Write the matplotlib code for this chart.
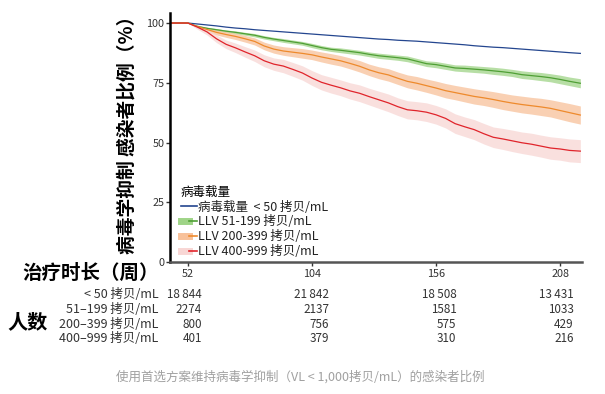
import matplotlib
matplotlib.use('Agg')
import matplotlib.pyplot as plt
import matplotlib.transforms as mtransforms
from matplotlib.lines import Line2D
from matplotlib.legend_handler import HandlerTuple

plt.rcParams['font.family'] = ['Noto Sans CJK SC', 'DejaVu Sans']

# 数据
weeks = [44.5, 52, 56, 60, 64, 68, 72, 76, 80, 84, 88, 92, 96, 100, 104, 108, 112, 116,
         120, 124, 128, 132, 136, 140, 144, 148, 152, 156, 160, 164, 168, 172, 176, 180,
         184, 188, 192, 196, 200, 204, 208, 212, 216.5]

vl_lt50 = [100, 100, 99.6, 99.2, 98.8, 98.3, 97.9, 97.6, 97.2, 96.9, 96.6, 96.3, 96.0, 95.7,
           95.4, 95.1, 94.8, 94.5, 94.2, 93.9, 93.6, 93.3, 93.1, 92.8, 92.6, 92.4, 92.1, 91.8,
           91.5, 91.2, 90.9, 90.5, 90.2, 89.9, 89.7, 89.4, 89.1, 88.8, 88.5, 88.2, 87.9, 87.6, 87.3]
llv_51_199 = [100, 100, 98.6, 97.8, 97.2, 96.6, 96.1, 95.5, 94.9, 94.0, 93.3, 92.7, 92.1, 91.5,
              90.6, 89.7, 89.0, 88.6, 88.1, 87.6, 86.9, 86.3, 85.9, 85.5, 85.0, 84.0, 83.0, 82.6,
              81.9, 81.2, 81.0, 80.7, 80.4, 80.0, 79.6, 79.1, 78.4, 78.0, 77.6, 77.1, 76.4, 75.6, 74.8]
llv_200_399 = [100, 100, 98.5, 97.3, 96.1, 95.2, 94.4, 93.4, 92.3, 90.4, 89.1, 88.3, 87.8, 87.3,
               86.7, 85.8, 85.0, 84.2, 83.1, 81.9, 80.4, 79.2, 78.3, 76.9, 75.6, 74.8, 73.8, 72.8,
               71.7, 70.9, 70.1, 69.3, 68.7, 68.0, 67.2, 66.5, 65.9, 65.4, 64.9, 64.3, 63.4, 62.5, 61.5]
llv_400_999 = [100, 100, 98.3, 96.3, 93.4, 91.1, 89.6, 87.9, 86.3, 84.2, 82.8, 82.0, 80.6, 79.1,
               77.0, 75.2, 74.0, 72.9, 71.6, 70.6, 69.2, 67.9, 66.6, 65.0, 63.7, 63.3, 62.7, 61.6,
               60.1, 57.9, 56.6, 55.4, 53.7, 52.2, 51.5, 50.7, 49.9, 49.3, 48.5, 47.7, 47.3, 46.7, 46.4]

# 置信区间半宽
ci_51_199 = [0, 0, 0.3, 0.4, 0.5, 0.5, 0.6, 0.6, 0.7, 0.7, 0.7, 0.8, 0.8, 0.8, 0.9, 0.9, 0.9,
             1.0, 1.0, 1.0, 1.0, 1.1, 1.1, 1.1, 1.2, 1.2, 1.2, 1.3, 1.3, 1.3, 1.4, 1.4, 1.4, 1.5,
             1.5, 1.5, 1.6, 1.6, 1.7, 1.7, 1.8, 1.8, 1.9]
ci_200_399 = [0, 0, 0.6, 0.9, 1.1, 1.2, 1.3, 1.4, 1.5, 1.6, 1.7, 1.8, 1.9, 2.0, 2.0, 2.1, 2.2,
              2.2, 2.3, 2.4, 2.4, 2.5, 2.6, 2.6, 2.7, 2.8, 2.8, 2.9, 3.0, 3.0, 3.1, 3.2, 3.2, 3.3,
              3.4, 3.4, 3.5, 3.5, 3.6, 3.6, 3.7, 3.8, 3.8]
ci_400_999 = [0, 0, 0.9, 1.3, 1.6, 1.8, 2.0, 2.2, 2.4, 2.5, 2.6, 2.8, 2.9, 3.0, 3.1, 3.2, 3.3,
              3.3, 3.4, 3.5, 3.5, 3.6, 3.7, 3.7, 3.8, 3.8, 3.9, 3.9, 4.0, 4.1, 4.1, 4.2, 4.3, 4.3,
              4.4, 4.5, 4.5, 4.6, 4.6, 4.7, 4.7, 4.8, 4.8]

legend_labels = ['病毒载量  < 50 拷贝/mL', 'LLV 51-199 拷贝/mL',
                 'LLV 200-399 拷贝/mL', 'LLV 400-999 拷贝/mL']
row_labels = ['< 50 拷贝/mL', '51–199 拷贝/mL', '200–399 拷贝/mL', '400–999 拷贝/mL']
x_ticks = [52, 104, 156, 208]
y_ticks = [0, 25, 50, 75, 100]
at_risk = [
    ['18\u2009844', '21\u2009842', '18\u2009508', '13\u2009431'],
    ['2274', '2137', '1581', '1033'],
    ['800', '756', '575', '429'],
    ['401', '379', '310', '216'],
]

line_colors = ['#24468f', '#4f9f35', '#ee8a2c', '#e0242b']
band_colors = [None, '#9fd487', '#f8c19a', '#f8d6d4']

fig = plt.figure(figsize=(6.05, 3.94), dpi=100)
ax = fig.add_axes([0.281, 0.335, 0.681, 0.632])

series = [vl_lt50, llv_51_199, llv_200_399, llv_400_999]
bands = [None, ci_51_199, ci_200_399, ci_400_999]

# 先画置信带
for s, ci, bc in zip(series, bands, band_colors):
    if ci is None:
        continue
    lo = [v - c for v, c in zip(s, ci)]
    hi = [v + c for v, c in zip(s, ci)]
    ax.fill_between(weeks, lo, hi, color=bc, alpha=0.75, lw=0)

for s, lc in zip(series, line_colors):
    ax.plot(weeks, s, color=lc, lw=0.9)

ax.set_xlim(44.5, 217.2)
ax.set_ylim(0, 104.2)
ax.set_xticks(x_ticks)
ax.set_yticks(y_ticks)
ax.tick_params(axis='both', labelsize=7.8, colors='#333333', length=3, width=1)
ax.tick_params(axis='x', pad=2)
ax.tick_params(axis='y', pad=1)

for side in ['top', 'right']:
    ax.spines[side].set_visible(False)
ax.spines['left'].set_color('black')
ax.spines['left'].set_linewidth(1.8)
ax.spines['bottom'].set_color('#555555')
ax.spines['bottom'].set_linewidth(1.8)

# 图例
handles = []
for lc, bc in zip(line_colors, band_colors):
    if bc is None:
        handles.append(Line2D([], [], color=lc, lw=1.2))
    else:
        handles.append((Line2D([], [], color=bc, lw=5),
                        Line2D([], [], color=lc, lw=1.2)))
leg = ax.legend(handles, legend_labels, title='病毒载量', loc='lower left',
                bbox_to_anchor=(0.005, -0.02), frameon=False, fontsize=9,
                title_fontsize=9, handlelength=1.3, handletextpad=0.1,
                labelspacing=0.15, borderpad=0.2, alignment='left',
                handler_map={tuple: HandlerTuple(ndivide=None, pad=0)})
for t in leg.get_texts():
    t.set_color('#222222')

# 轴标题
fig.text(0.21, 0.668, '病毒学抑制 感染者比例（%）', rotation=90, ha='center', va='center',
         fontsize=13.5, fontweight='bold')
fig.text(0.262, 1 - 273 / 394, '治疗时长（周）', ha='right', va='center',
         fontsize=14, fontweight='bold')

# 风险人数表
fig.text(0.045, 1 - 322 / 394, '人数', ha='center', va='center', fontsize=14.5,
         fontweight='bold')
row_y = [295, 309.5, 324, 338.5]
col_offset = [6.0, 7.2, 8.5, 5.7]
trans = mtransforms.blended_transform_factory(ax.transData, fig.transFigure)
for label, yy, counts in zip(row_labels, row_y, at_risk):
    fig.text(0.262, 1 - yy / 394, label, ha='right', va='center', fontsize=9,
             color='#333333')
    for wk, off, c in zip(x_ticks, col_offset, counts):
        ax.text(wk + off, 1 - yy / 394, c, transform=trans, ha='right', va='center',
                fontsize=8.4, color='#333333', clip_on=False)

fig.text(0.496, 1 - 377 / 394, '使用首选方案维持病毒学抑制（VL < 1,000拷贝/mL）的感染者比例',
         ha='center', va='center', fontsize=9, color='#a0a0a0')

fig.savefig('out.png', dpi=100)
